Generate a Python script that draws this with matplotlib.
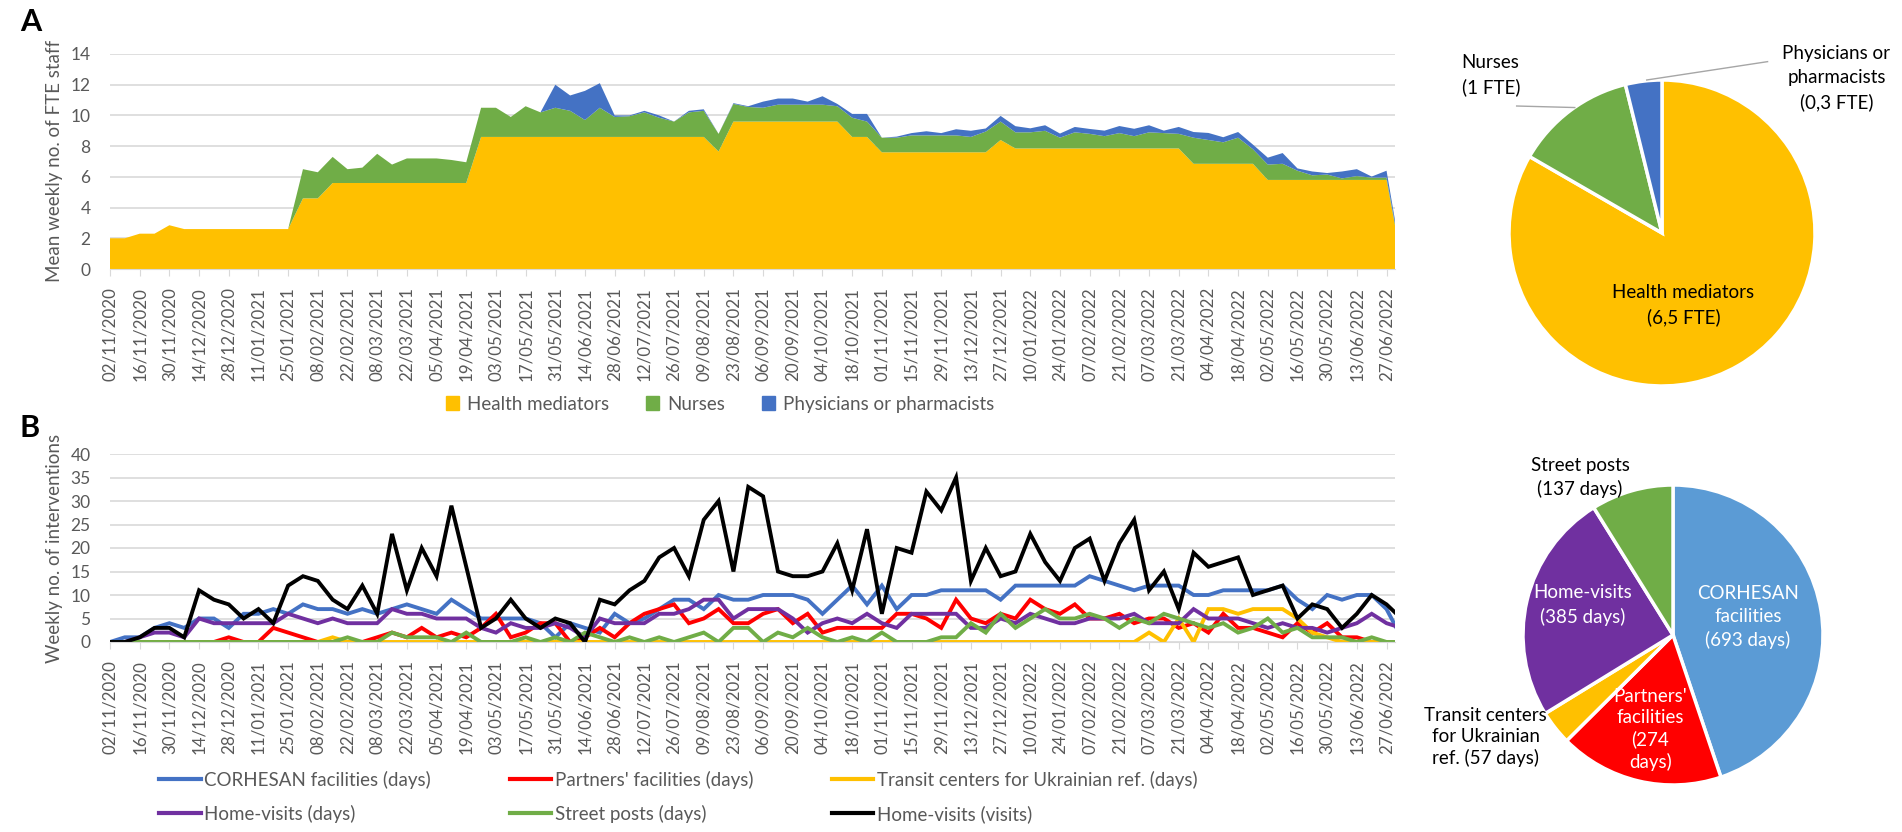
import matplotlib
matplotlib.use('Agg')
import matplotlib.pyplot as plt
import pandas as pd
from matplotlib.patches import Patch
from matplotlib.lines import Line2D

plt.rcParams['font.family'] = ['Lato', 'DejaVu Sans']

# weekly data, week 0 = 02/11/2020 (last week is only partly shown)
week_dates = pd.date_range('2020-11-02', periods=88, freq='7D')

# --- A: mean weekly number of FTE staff ---
health_mediators = [2.0, 2.0, 2.3, 2.3, 2.85, 2.6, 2.6, 2.6, 2.6, 2.6, 2.6, 2.6, 2.6,
                    4.6, 4.6,
                    5.6, 5.6, 5.6, 5.6, 5.6, 5.6, 5.6, 5.6, 5.6, 5.6,
                    8.6, 8.6, 8.6, 8.6, 8.6, 8.6, 8.6, 8.6, 8.6, 8.6, 8.6, 8.6, 8.6, 8.6, 8.6, 8.6,
                    7.65,
                    9.6, 9.6, 9.6, 9.6, 9.6, 9.6, 9.6, 9.6,
                    8.6, 8.6,
                    7.6, 7.6, 7.6, 7.6, 7.6, 7.6, 7.6, 7.6,
                    8.4,
                    7.85, 7.85, 7.85, 7.85, 7.85, 7.85, 7.85, 7.85, 7.85, 7.85, 7.85, 7.85,
                    6.85, 6.85, 6.85, 6.85, 6.85,
                    5.8, 5.8, 5.8, 5.8, 5.8, 5.8, 5.8, 5.8, 5.8,
                    0.6]
nurses = [0, 0, 0, 0, 0, 0, 0, 0, 0, 0, 0, 0, 0,
          1.9, 1.7, 1.7, 0.9, 1.0, 1.9, 1.2, 1.6, 1.6, 1.6, 1.5, 1.35,
          1.9, 1.9, 1.3, 2.0, 1.6, 1.9, 1.7, 1.1, 1.9, 1.3, 1.35, 1.6, 1.25, 1.0, 1.6, 1.7,
          1.15, 1.15, 0.95, 0.9, 1.1, 1.1, 1.1, 1.1, 1.0, 1.25, 1.0,
          0.95, 0.95, 1.1, 1.1, 1.1, 1.1, 1.0, 1.35, 1.2,
          1.05, 1.05, 1.15, 0.7, 1.05, 0.95, 0.8, 1.0, 0.8, 1.05, 1.0, 0.95,
          1.7, 1.55, 1.4, 1.7, 0.95,
          1.0, 1.05, 0.6, 0.3, 0.35, 0.1, 0.25, 0.15, 0.15, 0.1]
physicians = [0, 0, 0, 0, 0, 0, 0, 0, 0, 0, 0, 0, 0, 0, 0,
              0, 0, 0, 0, 0, 0, 0, 0, 0, 0, 0, 0, 0, 0, 0,
              1.5, 1.0, 1.9, 1.6, 0.1, 0.05, 0.1, 0.15, 0.0, 0.1, 0.1,
              0.0, 0.05, 0.05, 0.4, 0.4, 0.4, 0.2, 0.55, 0.15, 0.25, 0.5,
              0.0, 0.07, 0.15, 0.27, 0.15, 0.4, 0.4, 0.2, 0.37,
              0.4, 0.26, 0.36, 0.27, 0.35, 0.32, 0.36, 0.46, 0.48, 0.46, 0.16, 0.45,
              0.37, 0.46, 0.33, 0.37, 0.3,
              0.45, 0.7, 0.15, 0.25, 0.1, 0.45, 0.45, 0.07, 0.45, 0.05]

staff_labels = ['Health mediators', 'Nurses', 'Physicians or pharmacists']
staff_colors = ['#FFC000', '#70AD47', '#4472C4']
staff_pie = [6.5, 1, 0.3]

# --- B: weekly number of interventions ---
corhesan_days = [0, 1, 1, 3, 4, 3, 5, 5, 3, 6, 6, 7, 6, 8, 7, 7, 6, 7, 6, 7, 8, 7, 6, 9, 7, 5, 5, 5, 5, 4, 1,
                 4, 3, 2, 6, 4, 5, 7, 9, 9, 7, 10, 9, 9, 10, 10, 10, 9, 6, 9, 12, 8, 12, 7, 10, 10, 11, 11, 11, 11, 9,
                 12, 12, 12, 12, 12, 14, 13, 12, 11, 12, 12, 12, 10, 10, 11, 11, 11, 11, 12, 9, 7, 10, 9, 10, 10, 7,
                 1]
partners_days = [0, 0, 0, 0, 0, 0, 0, 0, 1, 0, 0, 3, 2, 1, 0, 0, 0, 0, 1, 2, 1, 3, 1, 2, 1, 3, 6, 1, 2, 4, 4,
                 0, 1, 3, 1, 4, 6, 7, 8, 4, 5, 7, 4, 4, 6, 7, 4, 6, 2, 3, 3, 3, 3, 6, 6, 5, 3, 9, 5, 4, 6,
                 5, 9, 7, 6, 8, 5, 5, 6, 4, 5, 5, 3, 4, 2, 6, 3, 3, 2, 1, 4, 2, 4, 1, 1, 0, 0,
                 0]
transit_days = [0, 0, 0, 0, 0, 0, 0, 0, 0, 0, 0, 0, 0, 0, 0, 1,
                0, 0, 0, 0, 0, 0, 0, 0, 0, 0, 0, 0, 0, 0, 0, 0, 0, 0, 0, 0, 0, 0, 0, 0, 0, 0, 0,
                0, 0, 0, 0, 0, 0, 0, 0, 0, 0, 0, 0, 0, 0, 0, 0, 0, 0, 0, 0, 0, 0, 0, 0, 0, 0, 0,
                2, 0, 5, 0, 7, 7, 6, 7, 7, 7, 5, 2, 1, 0, 0, 0, 0, 0]
home_days = [0, 0, 1, 2, 2, 1, 5, 4, 4, 4, 4, 4, 6, 5, 4, 5, 4, 4, 4, 7, 6, 6, 5, 5, 5, 3, 2, 4, 3, 3, 4,
             3, 1, 5, 4, 4, 4, 6, 6, 7, 9, 9, 5, 7, 7, 7, 5, 2, 4, 5, 4, 6, 4, 3, 6, 6, 6, 6, 3, 3, 5,
             4, 6, 5, 4, 4, 5, 5, 5, 6, 4, 4, 4, 7, 5, 5, 5, 4, 3, 4, 3, 3, 2, 3, 4, 6, 4,
             3]
street_days = [0, 0, 0, 0, 0, 0, 0, 0, 0, 0, 0, 0, 0, 0, 0, 0, 1, 0, 0, 2, 1, 1, 1, 0, 2, 0, 0, 0, 1, 0, 1,
               0, 2, 1, 0, 1, 0, 1, 0, 1, 2, 0, 3, 3, 0, 2, 1, 3, 1, 0, 1, 0, 2, 0, 0, 0, 1, 1, 4, 2, 6,
               3, 5, 7, 5, 5, 6, 5, 3, 5, 4, 6, 5, 4, 3, 4, 2, 3, 5, 2, 3, 1, 1, 1, 0, 1, 0,
               0]
home_visits = [0, 0, 1, 3, 3, 1, 11, 9, 8, 5, 7, 4, 12, 14, 13, 9, 7, 12, 6, 23, 11, 20, 14, 29, 16, 3, 5, 9, 5, 3, 5,
               4, 0, 9, 8, 11, 13, 18, 20, 14, 26, 30, 15, 33, 31, 15, 14, 14, 15, 21, 11, 24, 6, 20, 19, 32, 28, 35, 13, 20, 14,
               15, 23, 17, 13, 20, 22, 13, 21, 26, 11, 15, 7, 19, 16, 17, 18, 10, 11, 12, 5, 8, 7, 3, 6, 10, 8,
               5]

line_labels = ['CORHESAN facilities (days)', "Partners' facilities (days)",
               'Transit centers for Ukrainian ref. (days)', 'Home-visits (days)',
               'Street posts (days)', 'Home-visits (visits)']
line_colors = ['#4472C4', '#FF0000', '#FFC000', '#7030A0', '#70AD47', '#000000']

pie_b_values = [693, 274, 57, 385, 137]
pie_b_colors = ['#5B9BD5', '#FF0000', '#FFC000', '#7030A0', '#70AD47']

# ---------------------------------------------------------------
W, H = 1902, 832
fig = plt.figure(figsize=(W / 100, H / 100), dpi=100)


def box(left, top, right, bottom):
    # pixel box -> figure fraction
    return [left / W, 1 - bottom / H, (right - left) / W, (bottom - top) / H]


weeks = list(range(len(week_dates)))
tick_pos = weeks[0:87:2]
tick_lab = [d.strftime('%d/%m/%Y') for d in week_dates[0:87:2]]
grey = '#595959'
grid_c = '#D9D9D9'


def style_axis(ax, ymax, ystep):
    ax.set_xlim(0, 86.57)
    ax.set_ylim(0, ymax)
    ax.set_yticks(range(0, ymax + 1, ystep))
    ax.set_xticks(tick_pos)
    ax.set_xticklabels(tick_lab, rotation=90)
    ax.tick_params(axis='x', length=5, color=grid_c, labelsize=12.2, labelcolor=grey, pad=8)
    ax.tick_params(axis='y', length=0, labelsize=12.5, labelcolor=grey, pad=14)
    ax.grid(axis='y', color=grid_c, linewidth=1.2)
    ax.set_axisbelow(True)
    for s in ['top', 'right', 'left']:
        ax.spines[s].set_visible(False)
    ax.spines['bottom'].set_color(grid_c)


# A: stacked area
axA = fig.add_axes(box(110, 54, 1395, 269))
axA.stackplot(weeks, health_mediators, nurses, physicians, colors=staff_colors, linewidth=0)
style_axis(axA, 14, 2)
fig.text(55 / W, 1 - 161 / H, 'Mean weekly no. of FTE staff', rotation=90,
         ha='center', va='center', fontsize=13.5, color=grey)
fig.legend([Patch(color=c) for c in staff_colors], staff_labels, loc='center',
           bbox_to_anchor=(720 / W, 1 - 404 / H), ncol=3, frameon=False, fontsize=13.5,
           handlelength=0.7, handleheight=0.7, handletextpad=0.4, columnspacing=2.0,
           labelcolor=grey)

# A: pie
pA = fig.add_axes(box(1509, 80, 1815, 386))
pA.pie(staff_pie, colors=staff_colors, startangle=90, counterclock=False,
       wedgeprops=dict(edgecolor='white', linewidth=2.5))
pA.set_aspect('auto')
pA.set_xlim(-1, 1)
pA.set_ylim(-1, 1)
pA.text(-1.31, 1.03, 'Nurses\n(1 FTE)', ha='left', va='center', fontsize=13.5, linespacing=1.5)
pA.plot([-0.95, -0.57], [0.83, 0.82], color='#A6A6A6', lw=1, clip_on=False)
pA.text(1.14, 1.01, 'Physicians or\npharmacists\n(0,3 FTE)', ha='center', va='center',
        fontsize=13.5, linespacing=1.5)
pA.plot([-0.1, 0.69], [1.0, 1.12], color='#A6A6A6', lw=1, clip_on=False)
pA.text(0.14, -0.47, 'Health mediators\n(6,5 FTE)', ha='center', va='center',
        fontsize=13.5, linespacing=1.5)

# B: lines
axB = fig.add_axes(box(110, 454, 1395, 642))
for vals, c in zip([corhesan_days, partners_days, transit_days, home_days, street_days, home_visits],
                   line_colors):
    axB.plot(weeks, vals, color=c, linewidth=2.8, solid_joinstyle='miter')
style_axis(axB, 40, 5)
fig.text(55 / W, 1 - 548 / H, 'Weekly no. of interventions', rotation=90,
         ha='center', va='center', fontsize=13.5, color=grey)
handles = [Line2D([], [], color=c, lw=3) for c in line_colors]
order = [0, 3, 1, 4, 2, 5]
fig.legend([handles[i] for i in order], [line_labels[i] for i in order], loc='center left',
           bbox_to_anchor=(150 / W, 1 - 797 / H), ncol=3, frameon=False, fontsize=13.5,
           handlelength=2.2, handletextpad=0.2, columnspacing=4.2, labelspacing=0.85,
           borderpad=0, labelcolor=grey)

# B: pie
pB = fig.add_axes(box(1523, 485, 1823, 785))
pB.pie(pie_b_values, colors=pie_b_colors, startangle=90, counterclock=False,
       wedgeprops=dict(edgecolor='white', linewidth=2.5))
pB.set_aspect('auto')
pB.set_xlim(-1, 1)
pB.set_ylim(-1, 1)
pB.text(0.5, 0.12, 'CORHESAN\nfacilities\n(693 days)', ha='center', va='center',
        fontsize=13.5, color='white', linespacing=1.4)
pB.text(-0.15, -0.63, "Partners'\nfacilities\n(274\ndays)", ha='center', va='center',
        fontsize=13.5, color='white', linespacing=1.3)
pB.text(-0.6, 0.2, 'Home-visits\n(385 days)', ha='center', va='center',
        fontsize=13.5, color='white', linespacing=1.4)
pB.text(-1.25, -0.68, 'Transit centers\nfor Ukrainian\nref. (57 days)', ha='center', va='center',
        fontsize=13.5, linespacing=1.3)
pB.text(-0.62, 1.05, 'Street posts\n(137 days)', ha='center', va='center',
        fontsize=13.5, linespacing=1.4)

fig.text(20 / W, 1 - 22 / H, 'A', fontsize=22, fontweight='bold', va='center')
fig.text(20 / W, 1 - 428 / H, 'B', fontsize=22, fontweight='bold', va='center')

fig.savefig('out.png', dpi=100)
